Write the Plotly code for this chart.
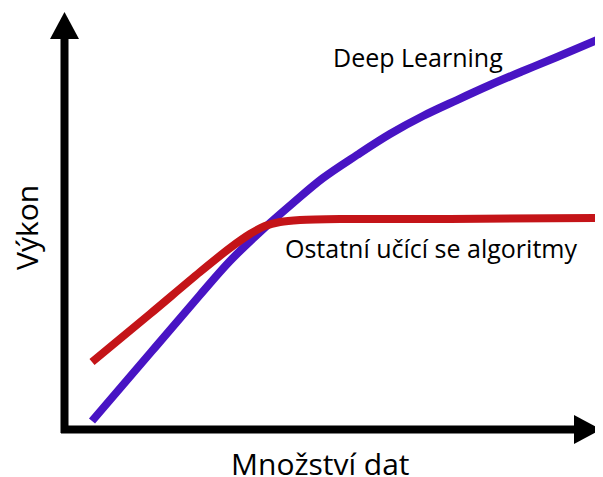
import plotly.graph_objects as go

# Data (arbitrary units: x = množství dat, y = výkon)
dl_x = [4.87, 16.10, 25.09, 30.71, 36.33, 42.51, 48.13, 54.49, 60.67, 66.85, 73.22, 79.40, 85.58, 91.95, 100.37]
dl_y = [2.09, 18.37, 31.40, 39.30, 46.05, 52.79, 58.60, 63.95, 68.84, 73.02, 76.74, 80.23, 83.49, 86.74, 91.16]

ml_x = [4.87, 15.73, 25.09, 30.71, 34.46, 37.27, 40.07, 43.82, 51.31, 71.91, 100.0]
ml_y = [15.81, 26.98, 36.74, 42.33, 45.58, 47.44, 48.37, 48.84, 49.07, 49.07, 49.30]

label_dl = "Deep Learning"
label_ml = "Ostatní učící se algoritmy"
x_title = "Množství dat"
y_title = "Výkon"

VW, VH = 603, 477      # browser view
PAD = 8                # page margin around the figure
W, H = VW - PAD, VH - PAD
OX, OY = 66.0, 430.0   # view pixel of data origin
SX, SY = 5.34, 4.3     # pixels per unit

def dx(px):
    return (px - OX) / SX

def dy(py):
    return (OY - py) / SY

fig = go.Figure()
fig.add_trace(go.Scatter(x=dl_x, y=dl_y, mode="lines",
                         line=dict(color="rgb(72,20,196)", width=8, shape="spline", smoothing=1.0),
                         hoverinfo="skip", showlegend=False))
fig.add_trace(go.Scatter(x=ml_x, y=ml_y, mode="lines",
                         line=dict(color="rgb(196,20,24)", width=8, shape="spline", smoothing=0.8),
                         hoverinfo="skip", showlegend=False))

# axes with arrowheads
shapes = [
    dict(type="line", x0=dx(64.5), y0=dy(433), x1=dx(64.5), y1=dy(38),
         line=dict(color="black", width=8)),
    dict(type="line", x0=dx(61), y0=dy(429.5), x1=dx(575), y1=dy(429.5),
         line=dict(color="black", width=8)),
    dict(type="path",
         path=f"M {dx(50)} {dy(39)} L {dx(79)} {dy(39)} L {dx(64.5)} {dy(12)} Z",
         fillcolor="black", line=dict(color="black", width=0)),
    dict(type="path",
         path=f"M {dx(574)} {dy(415)} L {dx(574)} {dy(444)} L {dx(601)} {dy(429.5)} Z",
         fillcolor="black", line=dict(color="black", width=0)),
]

font = "'Open Sans', sans-serif"
annotations = [
    dict(x=dx(418), y=dy(57), text=label_dl, showarrow=False,
         xanchor="center", yanchor="middle", font=dict(family=font, size=25, color="black")),
    dict(x=dx(431), y=dy(248), text=label_ml, showarrow=False,
         xanchor="center", yanchor="middle", font=dict(family=font, size=25, color="black")),
    dict(x=dx(320), y=dy(463), text=x_title, showarrow=False,
         xanchor="center", yanchor="middle", font=dict(family=font, size=30, color="black")),
    dict(x=dx(26), y=dy(228), text=y_title, showarrow=False, textangle=-90,
         xanchor="center", yanchor="middle", font=dict(family=font, size=30, color="black")),
]

fig.update_layout(
    width=W, height=H, autosize=False,
    margin=dict(l=0, r=0, t=0, b=0),
    paper_bgcolor="white", plot_bgcolor="white",
    xaxis=dict(range=[dx(PAD), dx(VW)], visible=False, fixedrange=True),
    yaxis=dict(range=[dy(VH), dy(PAD)], visible=False, fixedrange=True),
    shapes=shapes, annotations=annotations,
)

fig.write_html("out.html")
